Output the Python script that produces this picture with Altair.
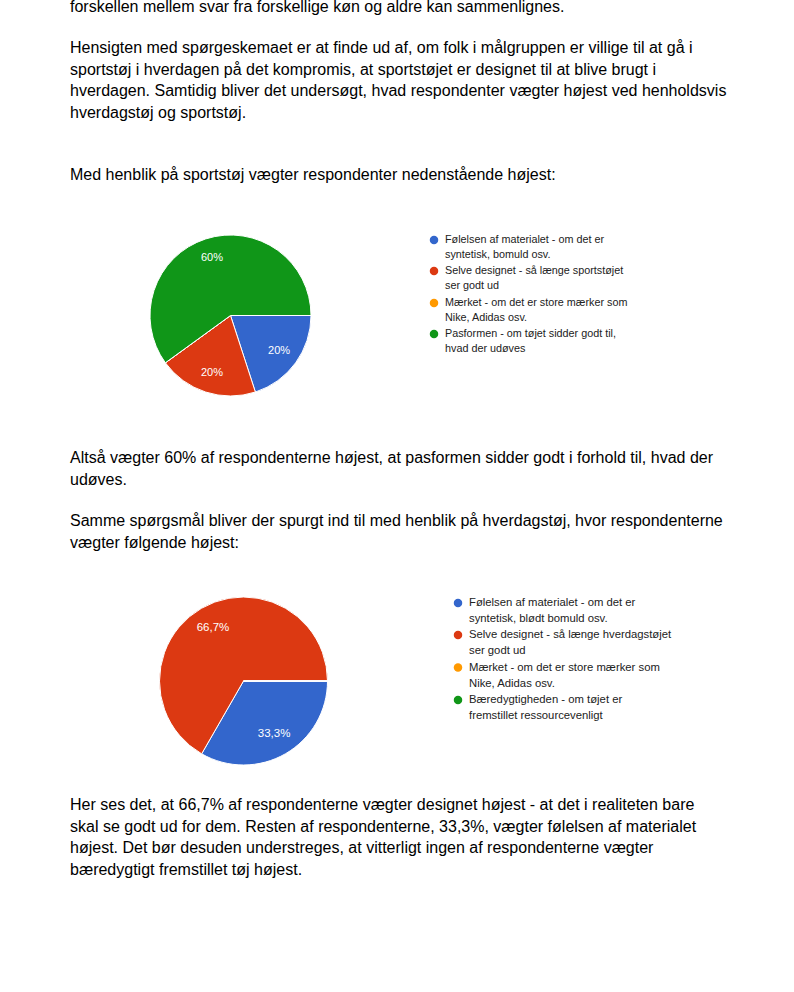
import math
import altair as alt

# ---------------- data ----------------
keys = ["a", "b", "c", "d"]
palette = ["#3366cc", "#dc3912", "#ff9900", "#109618"]

pie1_values = [20, 20, 0, 60]
pie1_labels = ["20%", "20%", "", "60%"]
pie1_legend = [
    ["Følelsen af materialet - om det er", "syntetisk, bomuld osv."],
    ["Selve designet - så længe sportstøjet", "ser godt ud"],
    ["Mærket - om det er store mærker som", "Nike, Adidas osv."],
    ["Pasformen - om tøjet sidder godt til,", "hvad der udøves"],
]

pie2_values = [33.3, 66.7, 0, 0]
pie2_labels = ["33,3%", "66,7%", "", ""]
pie2_legend = [
    ["Følelsen af materialet - om det er", "syntetisk, blødt bomuld osv."],
    ["Selve designet - så længe hverdagstøjet", "ser godt ud"],
    ["Mærket - om det er store mærker som", "Nike, Adidas osv."],
    ["Bæredygtigheden - om tøjet er", "fremstillet ressourcevenligt"],
]

para0 = ["forskellen mellem svar fra forskellige køn og aldre kan sammenlignes."]
para1 = [
    "Hensigten med spørgeskemaet er at finde ud af, om folk i målgruppen er villige til at gå i",
    "sportstøj i hverdagen på det kompromis, at sportstøjet er designet til at blive brugt i",
    "hverdagen. Samtidig bliver det undersøgt, hvad respondenter vægter højest ved henholdsvis",
    "hverdagstøj og sportstøj.",
]
para2 = ["Med henblik på sportstøj vægter respondenter nedenstående højest:"]
para3 = [
    "Altså vægter 60% af respondenterne højest, at pasformen sidder godt i forhold til, hvad der",
    "udøves.",
]
para4 = [
    "Samme spørgsmål bliver der spurgt ind til med henblik på hverdagstøj, hvor respondenterne",
    "vægter følgende højest:",
]
para5 = [
    "Her ses det, at 66,7% af respondenterne vægter designet højest - at det i realiteten bare",
    "skal se godt ud for dem. Resten af respondenterne, 33,3%, vægter følelsen af materialet",
    "højest. Det bør desuden understreges, at vitterligt ingen af respondenterne vægter",
    "bæredygtigt fremstillet tøj højest.",
]

FONT = "Liberation Sans"
theta_scale = alt.Scale(domain=[0, 100], range=[math.pi / 2, math.pi / 2 + 2 * math.pi])
color_scale = alt.Scale(domain=keys, range=palette)
blank = alt.Data(values=[{}])


def paragraph(lines, y):
    return alt.Chart(blank).mark_text(
        text=lines, font=FONT, fontSize=16, color="#000000", align="left",
        baseline="alphabetic", lineHeight=21.5,
    ).encode(x=alt.value(70), y=alt.value(y))


def pie(values, labels, cx, cy, r, label_r, fs):
    data = alt.Data(values=[
        {"k": k, "v": v, "lab": l} for k, v, l in zip(keys, values, labels)
    ])
    base = alt.Chart(data).encode(
        theta=alt.Theta("v:Q", stack=True, scale=theta_scale),
        order=alt.Order("k:N", sort="ascending"),
        x=alt.value(cx), y=alt.value(cy),
    )
    arcs = base.mark_arc(radius=r, stroke="#ffffff", strokeWidth=1).encode(
        color=alt.Color("k:N", scale=color_scale, legend=None)
    )
    text = base.mark_text(
        radius=label_r, font=FONT, fontSize=fs, color="#ffffff",
        align="center", baseline="middle",
    ).encode(text="lab:N").transform_filter("datum.v > 0")
    return [arcs, text]


def legend(items, x, ys, fs, lh, tx):
    layers = []
    for i, (lines, y) in enumerate(zip(items, ys)):
        layers.append(
            alt.Chart(blank).mark_point(
                shape="circle", filled=True, size=72, color=palette[i], opacity=1
            ).encode(x=alt.value(x), y=alt.value(y))
        )
        layers.append(
            alt.Chart(blank).mark_text(
                text=lines, font=FONT, fontSize=fs, color="#222222", align="left",
                baseline="middle", lineHeight=lh,
            ).encode(x=alt.value(tx), y=alt.value(y))
        )
    return layers


layers = []
layers.append(paragraph(para0, 12))
layers.append(paragraph(para1, 53))
layers.append(paragraph(para2, 180))
layers.append(paragraph(para3, 463))
layers.append(paragraph(para4, 526))
layers.append(paragraph(para5, 810))

layers += pie(pie1_values, pie1_labels, 230.5, 315.5, 80.5, 60, 11)
layers += pie(pie2_values, pie2_labels, 243.5, 681, 84, 61, 11.5)
layers += legend(pie1_legend, 434, [240, 271, 303, 334], 10.8, 15, 445)
layers += legend(pie2_legend, 458, [603, 635, 667.5, 700], 11.3, 16, 469)

chart = alt.layer(*layers).properties(
    width=794, height=992, autosize="none", padding=0,
    background="#ffffff",
).configure_view(stroke=None)

chart.save("out.html", embed_options={"renderer": "svg", "actions": False})
